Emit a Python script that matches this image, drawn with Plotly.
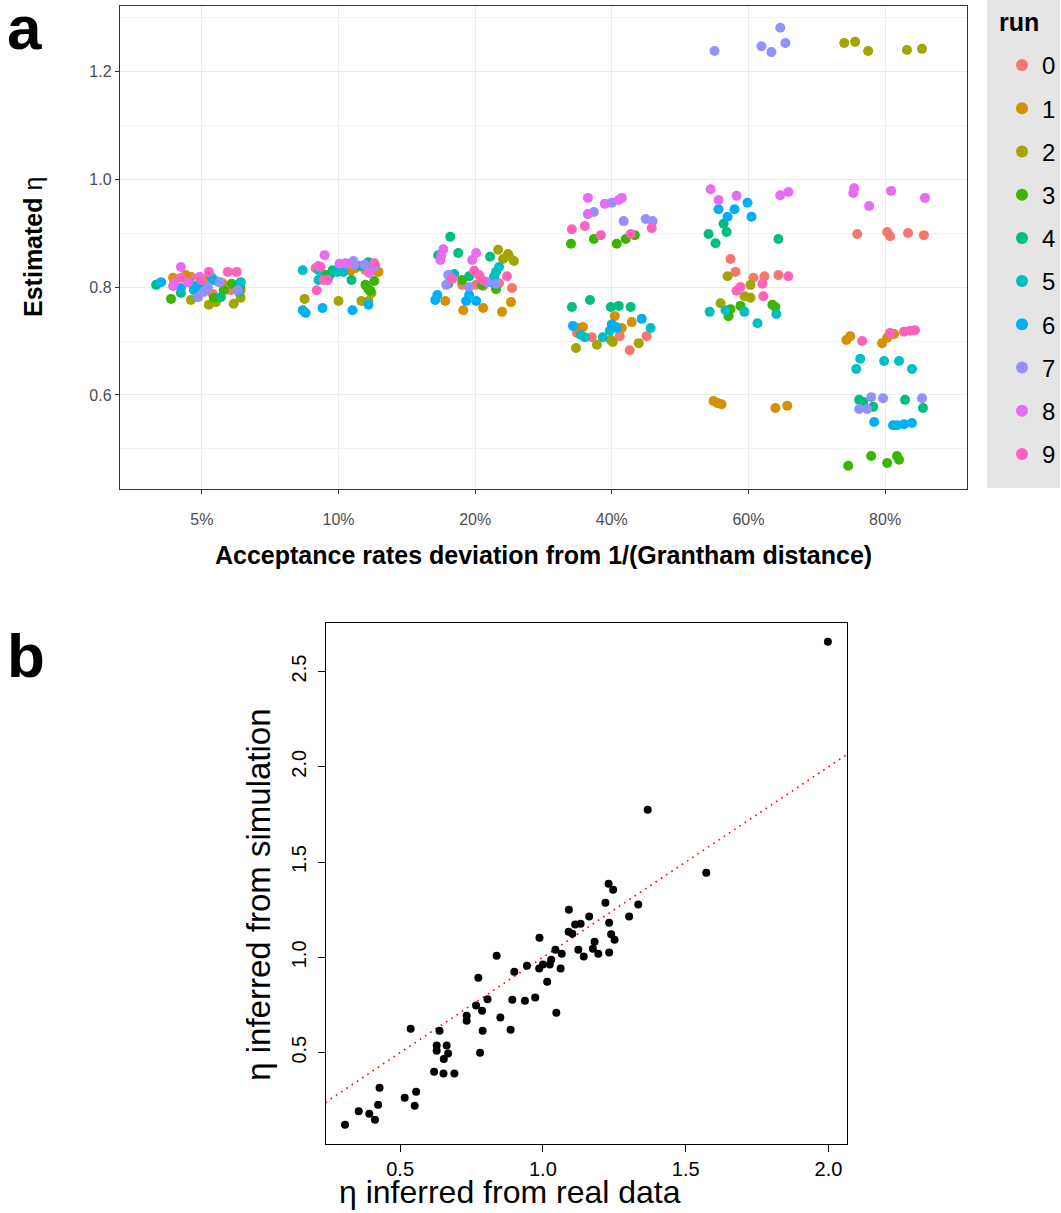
import plotly.graph_objects as go

W, H = 1061, 1213

categories = ["5%", "10%", "20%", "40%", "60%", "80%"]
run_labels = [str(i) for i in range(10)]
run_colors = ["#F8766D", "#D89000", "#A3A500", "#39B600", "#00BF7D",
              "#00BFC4", "#00B0F6", "#9590FF", "#E76BF3", "#FF62BC"]

# ---- panel a: estimated eta per run (rows = runs 0..9), and jitter offsets (category units)
eta_5 = [[0.787, 0.813, 0.809, 0.819, 0.794], [0.817, 0.807, 0.794, 0.822, 0.813],
         [0.776, 0.767, 0.772, 0.769, 0.780], [0.778, 0.806, 0.794, 0.780, 0.800],
         [0.789, 0.800, 0.781, 0.800, 0.804], [0.809, 0.800, 0.817, 0.809, 0.791],
         [0.809, 0.798, 0.794, 0.813, 0.804], [0.781, 0.791, 0.809, 0.794, 0.800],
         [0.837, 0.807, 0.819, 0.809, 0.802], [0.817, 0.828, 0.828, 0.828, 0.813]]
jit_5 = [[0.080, -0.204, 0.124, -0.080, 0.211], [-0.211, 0.153, 0.284, -0.117, 0.029],
         [-0.080, 0.051, 0.102, 0.233, 0.284], [-0.226, 0.219, 0.160, 0.087, 0.280],
         [-0.153, -0.007, 0.138, 0.270, -0.335], [-0.095, -0.058, 0.073, 0.284, 0.270],
         [-0.299, -0.153, -0.058, 0.087, -0.029], [-0.029, 0.015, 0.131, 0.262, 0.044],
         [-0.153, -0.204, -0.015, -0.102, -0.211], [-0.153, 0.051, 0.190, 0.255, -0.007]]

eta_10 = [[0.835, 0.839, 0.841, 0.817, 0.831], [0.830, 0.828, 0.839, 0.831, 0.835],
          [0.778, 0.774, 0.774, 0.774, 0.789], [0.822, 0.811, 0.796, 0.793, 0.804],
          [0.831, 0.813, 0.846, 0.824, 0.839], [0.831, 0.831, 0.813, 0.828, 0.828],
          [0.757, 0.752, 0.761, 0.757, 0.767], [0.848, 0.841, 0.839, 0.841, 0.844],
          [0.859, 0.843, 0.843, 0.826, 0.839], [0.837, 0.813, 0.813, 0.844, 0.794]]
jit_10 = [[-0.168, 0.102, 0.248, -0.073, 0.197], [0.087, 0.292, 0.175, 0.270, 0.124],
          [-0.248, 0.000, 0.168, 0.219, 0.241], [-0.095, 0.262, 0.219, 0.233, 0.197],
          [-0.044, 0.095, 0.219, -0.058, 0.160], [-0.262, -0.146, -0.146, -0.007, 0.036],
          [-0.262, -0.241, -0.117, 0.102, 0.219], [0.109, 0.190, 0.270, 0.117, 0.051],
          [-0.102, 0.007, 0.066, 0.226, -0.146], [-0.131, -0.109, -0.080, 0.262, -0.160]]

eta_20 = [[0.804, 0.804, 0.798, 0.802, 0.807], [0.774, 0.757, 0.761, 0.754, 0.772],
          [0.869, 0.861, 0.852, 0.848, 0.857], [0.813, 0.804, 0.796, 0.809, 0.806],
          [0.893, 0.859, 0.863, 0.856, 0.820], [0.824, 0.837, 0.828, 0.819, 0.809],
          [0.776, 0.785, 0.774, 0.785, 0.774], [0.822, 0.804, 0.800, 0.809, 0.806],
          [0.870, 0.859, 0.850, 0.863, 0.850], [0.830, 0.822, 0.815, 0.820, 0.813]]
jit_20 = [[-0.095, 0.007, 0.270, 0.058, 0.175], [-0.219, -0.087, 0.058, 0.197, 0.262],
          [0.168, 0.241, 0.204, 0.284, 0.248], [-0.095, 0.051, 0.153, 0.080, -0.197],
          [-0.182, -0.270, -0.124, 0.109, -0.044], [-0.153, 0.175, 0.153, 0.138, 0.117],
          [-0.292, -0.277, -0.066, -0.044, 0.007], [-0.197, -0.211, -0.044, 0.087, 0.153],
          [-0.233, -0.248, -0.255, 0.007, -0.022], [-0.007, 0.029, -0.168, 0.233, 0.051]]

eta_40 = [[0.715, 0.707, 0.709, 0.683, 0.709], [0.726, 0.746, 0.724, 0.735, 0.724],
          [0.687, 0.702, 0.698, 0.696, 0.693], [0.880, 0.889, 0.880, 0.889, 0.896],
          [0.763, 0.776, 0.763, 0.765, 0.763], [0.711, 0.707, 0.707, 0.719, 0.724],
          [0.728, 0.731, 0.724, 0.741, 0.726], [0.939, 0.956, 0.922, 0.926, 0.922],
          [0.965, 0.935, 0.954, 0.961, 0.965], [0.907, 0.913, 0.896, 0.898, 0.909]]
jit_40 = [[-0.255, -0.146, 0.058, 0.131, 0.255], [-0.211, 0.022, 0.073, 0.146, -0.241],
          [-0.262, -0.007, 0.007, 0.197, -0.109], [-0.299, -0.131, 0.036, 0.102, 0.168],
          [-0.292, -0.160, -0.007, 0.051, 0.138], [-0.226, -0.197, -0.066, -0.015, 0.284],
          [-0.284, 0.000, 0.036, 0.219, 0.029], [-0.131, 0.000, 0.087, 0.248, 0.299],
          [-0.175, -0.175, -0.051, 0.051, 0.073], [-0.292, -0.197, -0.080, 0.138, 0.292]]

eta_60 = [[0.852, 0.828, 0.817, 0.820, 0.822], [0.589, 0.585, 0.583, 0.576, 0.580],
          [0.820, 0.804, 0.783, 0.780, 0.770], [0.759, 0.746, 0.765, 0.767, 0.763],
          [0.917, 0.902, 0.898, 0.881, 0.889], [0.754, 0.757, 0.754, 0.733, 0.750],
          [0.944, 0.944, 0.930, 0.956, 0.930], [1.237, 1.246, 1.235, 1.280, 1.252],
          [0.981, 0.961, 0.969, 0.970, 0.976], [0.820, 0.806, 0.783, 0.793, 0.800]]
jit_60 = [[-0.131, -0.095, 0.036, 0.117, 0.219], [-0.255, -0.226, -0.197, 0.197, 0.284],
          [-0.153, 0.015, -0.029, 0.015, -0.204], [-0.131, -0.146, -0.058, 0.175, 0.197],
          [-0.182, -0.160, -0.292, -0.241, 0.219], [-0.284, -0.168, -0.029, 0.066, 0.204],
          [-0.219, -0.102, -0.153, -0.007, 0.022], [-0.248, 0.095, 0.168, 0.233, 0.270],
          [-0.277, -0.219, -0.087, 0.233, 0.292], [0.292, 0.102, 0.109, -0.087, -0.058]]

eta_80 = [[0.898, 0.902, 0.894, 0.900, 0.896], [0.702, 0.709, 0.696, 0.706, 0.713],
          [1.252, 1.254, 1.237, 1.239, 1.241], [0.469, 0.487, 0.474, 0.487, 0.480],
          [0.591, 0.587, 0.578, 0.591, 0.576], [0.667, 0.648, 0.663, 0.663, 0.648],
          [0.550, 0.544, 0.544, 0.546, 0.548], [0.596, 0.594, 0.574, 0.574, 0.594],
          [0.983, 0.974, 0.978, 0.950, 0.965], [0.700, 0.715, 0.717, 0.719, 0.720]]
jit_80 = [[-0.204, 0.015, 0.036, 0.168, 0.284], [-0.284, -0.255, -0.022, 0.015, 0.066],
          [-0.299, -0.219, -0.124, 0.160, 0.270], [-0.270, -0.102, 0.015, 0.087, 0.102],
          [-0.190, -0.160, -0.087, 0.146, 0.277], [-0.182, -0.211, -0.007, 0.102, 0.197],
          [-0.080, 0.058, 0.087, 0.138, 0.197], [-0.102, -0.015, -0.190, -0.131, 0.270],
          [-0.226, -0.233, 0.044, -0.117, 0.292], [-0.168, 0.036, 0.138, 0.182, 0.219]]

group_eta = [eta_5, eta_10, eta_20, eta_40, eta_60, eta_80]
group_jit = [jit_5, jit_10, jit_20, jit_40, jit_60, jit_80]

# ---- panel b: eta inferred from real data vs from simulation
real_eta = [0.307, 0.355, 0.392, 0.412, 0.423, 0.428, 0.516, 0.551, 0.556, 0.537,
            0.619, 0.652, 0.690, 0.628, 0.628, 0.663, 0.668, 0.653, 0.638, 0.733,
            0.733, 0.766, 0.787, 0.780, 0.789, 0.774, 0.806, 0.838, 0.851, 0.887,
            0.893, 0.900, 0.937, 0.944, 0.973, 0.988, 0.987, 1.000, 1.015, 1.024,
            1.029, 1.047, 1.044, 1.062, 1.066, 1.091, 1.090, 1.103, 1.113, 1.132,
            1.124, 1.143, 1.162, 1.181, 1.175, 1.194, 1.219, 1.230, 1.246, 1.232,
            1.239, 1.251, 1.232, 1.302, 1.334, 1.367, 1.572, 1.998]
sim_eta = [0.122, 0.192, 0.180, 0.148, 0.227, 0.316, 0.264, 0.222, 0.295, 0.626,
           0.400, 0.390, 0.390, 0.537, 0.510, 0.537, 0.495, 0.467, 0.615, 0.694,
           0.668, 0.747, 0.720, 0.500, 0.615, 0.893, 0.780, 1.009, 0.684, 0.620,
           0.778, 0.925, 0.773, 0.956, 0.789, 1.103, 0.941, 0.962, 0.872, 0.962,
           0.988, 0.710, 1.040, 0.941, 1.019, 1.250, 1.135, 1.124, 1.173, 1.177,
           1.040, 1.004, 1.214, 1.082, 1.045, 1.019, 1.287, 1.387, 1.355, 1.182,
           1.121, 1.093, 1.025, 1.214, 1.277, 1.775, 1.444, 2.656]
identity_line = [0.0, 3.0]

FONT = "Liberation Sans, Arial, Helvetica, sans-serif"

def px(x):
    return x / W

def py(y):
    return 1 - y / H

fig = go.Figure()

for r in range(10):
    xs, ys = [], []
    for g in range(len(categories)):
        for dx, e in zip(group_jit[g][r], group_eta[g][r]):
            xs.append(g + dx)
            ys.append(e)
    fig.add_trace(go.Scatter(
        x=xs, y=ys, mode="markers", name=run_labels[r], legendgroup=run_labels[r],
        marker=dict(color=run_colors[r], size=10, line=dict(width=0)),
        xaxis="x", yaxis="y", showlegend=True))

fig.add_trace(go.Scatter(
    x=identity_line, y=identity_line, mode="lines",
    line=dict(color="red", width=1.6, dash="1.6px,4.7px"),
    xaxis="x2", yaxis="y2", showlegend=False, hoverinfo="skip"))
fig.add_trace(go.Scatter(
    x=real_eta, y=sim_eta, mode="markers",
    marker=dict(color="black", size=8, line=dict(width=0)),
    xaxis="x2", yaxis="y2", showlegend=False))


def note(text, x, y, size, angle=0):
    return dict(text=text, x=px(x), y=py(y), xref="paper", yref="paper",
                xanchor="center", yanchor="middle", textangle=angle,
                showarrow=False, font=dict(size=size, family=FONT, color="black"))


# R-style 4% range expansion for panel b
xb_min, xb_max = min(real_eta), max(real_eta)
yb_min, yb_max = min(sim_eta), max(sim_eta)
xb_pad = 0.04 * (xb_max - xb_min)
yb_pad = 0.04 * (yb_max - yb_min)

fig.update_layout(
    width=W, height=H, margin=dict(l=0, r=0, t=0, b=0),
    paper_bgcolor="white", plot_bgcolor="white",
    font=dict(family=FONT, color="black"),
    xaxis=dict(domain=[px(120), px(968)], anchor="y", range=[-0.6, 5.6],
               tickmode="array", tickvals=list(range(6)), ticktext=categories,
               showgrid=True, gridcolor="#EBEBEB", gridwidth=1.1, zeroline=False,
               showline=True, mirror=True, linecolor="#333333", linewidth=1.2,
               ticks="outside", ticklen=4, tickcolor="#333333", tickwidth=1,
               ticklabelstandoff=12,
               tickfont=dict(size=16, color="#4D4D4D", family=FONT)),
    yaxis=dict(domain=[py(489), py(6)], anchor="x", range=[0.4259, 1.3204],
               tickmode="array", tickvals=[0.6, 0.8, 1.0, 1.2],
               ticktext=["0.6", "0.8", "1.0", "1.2"],
               showgrid=True, gridcolor="#EBEBEB", gridwidth=1.1, zeroline=False,
               minor=dict(showgrid=True, gridcolor="#F2F2F2", gridwidth=0.6,
                          tickmode="array", tickvals=[0.5, 0.7, 0.9, 1.1, 1.3]),
               showline=True, mirror=True, linecolor="#333333", linewidth=1.2,
               ticks="outside", ticklen=4, tickcolor="#333333", tickwidth=1,
               tickfont=dict(size=16, color="#4D4D4D", family=FONT)),
    xaxis2=dict(domain=[px(326), px(848)], anchor="y2",
                range=[xb_min - xb_pad, xb_max + xb_pad],
                tickmode="array", tickvals=[0.5, 1.0, 1.5, 2.0],
                ticktext=["0.5", "1.0", "1.5", "2.0"],
                showgrid=False, zeroline=False, showline=True, mirror=True,
                linecolor="black", linewidth=1, ticks="outside", ticklen=7,
                tickcolor="black", tickfont=dict(size=20, color="black", family=FONT)),
    yaxis2=dict(domain=[py(1144), py(622.5)], anchor="x2",
                range=[yb_min - yb_pad, yb_max + yb_pad],
                tickmode="array", tickvals=[0.5, 1.0, 1.5, 2.0, 2.5],
                ticktext=["0.5", "1.0", "1.5", "2.0", "2.5"], tickangle=-90,
                showgrid=False, zeroline=False, showline=True, mirror=True,
                linecolor="black", linewidth=1, ticks="outside", ticklen=7,
                ticklabelstandoff=4,
                tickcolor="black", tickfont=dict(size=20, color="black", family=FONT)),
    legend=dict(x=px(1003), y=py(43), xanchor="left", yanchor="top",
                bgcolor="rgba(0,0,0,0)", borderwidth=0,
                font=dict(size=24, family=FONT, color="black"),
                tracegroupgap=9, itemsizing="constant"),
    shapes=[dict(type="rect", xref="paper", yref="paper",
                 x0=px(988), x1=1.0, y0=py(488), y1=1.0,
                 fillcolor="#E5E5E5", line=dict(width=0), layer="below")],
    annotations=[
        dict(text="<b>a</b>", x=px(5), y=py(28), xref="paper", yref="paper",
             xanchor="left", yanchor="middle", showarrow=False,
             font=dict(size=62, family=FONT, color="black")),
        dict(text="<b>b</b>", x=px(5), y=py(655), xref="paper", yref="paper",
             xanchor="left", yanchor="middle", showarrow=False,
             font=dict(size=62, family=FONT, color="black")),
        dict(text="<b>run</b>", x=px(998), y=py(22), xref="paper", yref="paper",
             xanchor="left", yanchor="middle", showarrow=False,
             font=dict(size=25, family=FONT, color="black")),
        note("<b>Estimated</b> η", 33, 247, 25, angle=-90),
        note("<b>Acceptance rates deviation from 1/(Grantham distance)</b>", 544, 555, 25),
        note("η inferred from real data", 510, 1192, 32),
        note("η inferred from simulation", 258, 895, 33, angle=-90),
    ],
)

fig.write_html("out.html")
